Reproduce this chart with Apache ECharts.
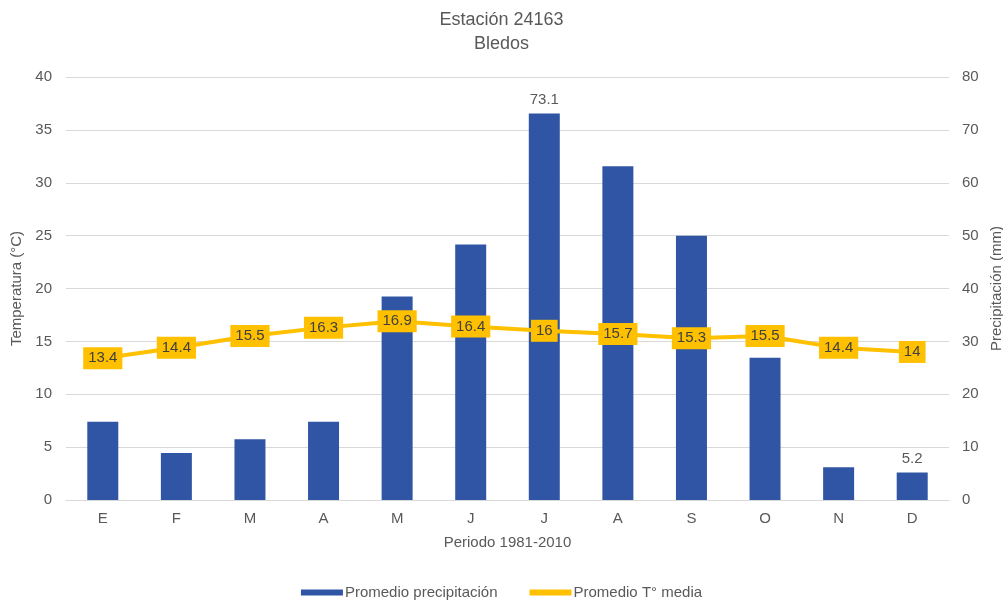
<!DOCTYPE html>
<html>
<head>
<meta charset="utf-8">
<script src="https://cdn.jsdelivr.net/npm/echarts@6/dist/echarts.min.js"></script>
<style>
  html, body { margin: 0; padding: 0; background: #fff; }
  #chart { width: 1003px; height: 602px; }
</style>
</head>
<body>
<div id="chart"></div>
<script>
// Monthly climate summary, station 24163 (Bledos), 1981-2010
const months = ['E', 'F', 'M', 'A', 'M', 'J', 'J', 'A', 'S', 'O', 'N', 'D'];
const precipitation = [14.8, 8.9, 11.5, 14.8, 38.5, 48.3, 73.1, 63.1, 50.0, 26.9, 6.2, 5.2];
const temperature = [13.4, 14.4, 15.5, 16.3, 16.9, 16.4, 16, 15.7, 15.3, 15.5, 14.4, 14];
const labelledBars = [6, 11];
const tempTicks = { min: 0, max: 40, interval: 5 };
const precipTicks = { min: 0, max: 80, interval: 10 };

const FONT = 'Liberation Sans, Arial, sans-serif';
const GREY = '#595959';
const FS = 15;

const chart = echarts.init(document.getElementById('chart'), null, { renderer: 'canvas' });

const barData = precipitation.map((v, i) => ({
  value: v,
  label: { show: labelledBars.includes(i) }
}));

chart.setOption({
  animation: false,
  backgroundColor: '#ffffff',
  textStyle: { fontFamily: FONT },
  title: {
    text: 'Estación 24163\nBledos',
    left: 'center',
    top: 3,
    textStyle: { fontFamily: FONT, fontSize: 18, fontWeight: 'normal', color: GREY, lineHeight: 24 }
  },
  grid: { left: 66, right: 54, top: 77, bottom: 102, outerBoundsMode: 'none' },
  legend: {
    bottom: -3,
    left: 'center',
    itemWidth: 42,
    itemHeight: 6,
    itemGap: 32,
    textStyle: { fontFamily: FONT, fontSize: FS, color: GREY, padding: [0, 0, 0, -3] },
    data: [
      { name: 'Promedio precipitación', icon: 'rect' },
      { name: 'Promedio T° media', icon: 'rect' }
    ]
  },
  xAxis: {
    type: 'category',
    data: months,
    name: 'Periodo 1981-2010',
    nameLocation: 'middle',
    nameGap: 35,
    nameTextStyle: { fontFamily: FONT, fontSize: FS, color: GREY },
    axisLine: { lineStyle: { color: '#d9d9d9' } },
    axisTick: { show: false },
    axisLabel: { color: GREY, fontSize: FS, margin: 11, fontFamily: FONT }
  },
  yAxis: [
    {
      type: 'value',
      min: tempTicks.min, max: tempTicks.max, interval: tempTicks.interval,
      name: 'Temperatura (°C)',
      nameLocation: 'middle',
      nameGap: 38,
      nameTextStyle: { fontFamily: FONT, fontSize: FS, color: GREY },
      axisLine: { show: false },
      axisTick: { show: false },
      axisLabel: { color: GREY, fontSize: FS, margin: 14, fontFamily: FONT },
      splitLine: { lineStyle: { color: '#d9d9d9' } }
    },
    {
      type: 'value',
      min: precipTicks.min, max: precipTicks.max, interval: precipTicks.interval,
      name: 'Precipitación (mm)',
      nameLocation: 'middle',
      nameGap: 35,
      nameRotate: 90,
      nameTextStyle: { fontFamily: FONT, fontSize: FS, color: GREY },
      axisLine: { show: false },
      axisTick: { show: false },
      axisLabel: { color: GREY, fontSize: FS, margin: 13, fontFamily: FONT },
      splitLine: { show: false }
    }
  ],
  series: [
    {
      name: 'Promedio precipitación',
      type: 'bar',
      yAxisIndex: 1,
      data: barData,
      barWidth: 31,
      itemStyle: { color: '#2f55a4' },
      label: {
        position: 'top',
        distance: 6,
        color: GREY,
        fontSize: FS,
        fontFamily: FONT
      },
      z: 2
    },
    {
      name: 'Promedio T° media',
      type: 'line',
      yAxisIndex: 0,
      data: temperature,
      symbol: 'rect',
      symbolSize: 1,
      showSymbol: true,
      lineStyle: { color: '#ffc000', width: 4 },
      itemStyle: { color: '#ffc000' },
      label: {
        show: true,
        position: 'inside',
        color: '#404040',
        fontSize: FS,
        fontFamily: FONT,
        backgroundColor: '#ffc000',
        padding: [4, 5, 3, 5]
      },
      z: 3
    }
  ]
});
</script>
</body>
</html>
